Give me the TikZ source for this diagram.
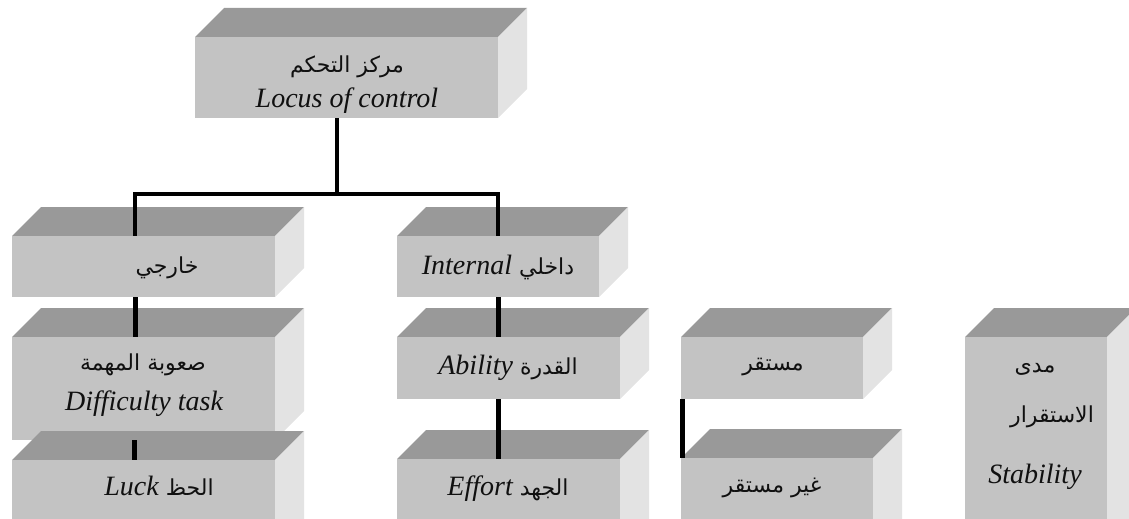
\documentclass[tikz,border=0pt]{standalone}
\usepackage{fontspec}
\setmainfont{Liberation Serif}
\newfontfamily\arabicfont[Script=Arabic]{DejaVu Sans}
\TeXXeTstate=1
\usetikzlibrary{calc,fit}
\definecolor{boxfront}{HTML}{C3C3C3}
\definecolor{boxtop}{HTML}{999999}
\definecolor{boxside}{HTML}{E3E3E3}
\definecolor{treeink}{HTML}{000000}
\definecolor{labelink}{HTML}{101010}

\newcommand{\arabictext}[1]{{\arabicfont\upshape\fontsize{22}{26}\selectfont\beginR #1\endR}}

%% a box seen from above and right: name, left, top, right, bottom
\newcommand{\solidbox}[5]{%
  \fill[boxtop] (#2,#3) -- (#2+29,#3-29) -- (#4+29,#3-29) -- (#4,#3) -- cycle;
  \fill[boxside] (#4,#3) -- (#4+29,#3-29) -- (#4+29,#5-29) -- (#4,#5) -- cycle;
  \fill[boxfront] (#2,#3) rectangle (#4,#5);
  \path (#2,#3) coordinate (#1 nw) (#4,#5) coordinate (#1 se);
  \node[fit=(#1 nw)(#1 se), inner sep=0pt] (#1) {};
}

\begin{document}
\begin{tikzpicture}[x=1pt, y=-1pt,
                    tree/.style={treeink, line width=4pt},
                    stem/.style={treeink, line width=5pt},
                    every node/.style={labelink, anchor=base,
                                       font=\fontsize{28}{33}\selectfont\itshape}]

  \useasboundingbox (0,0) rectangle (1129,519);
  \clip (0,0) rectangle (1129,519);

  %% the boxes
  \solidbox{locus}{195}{37}{498}{118}
  \solidbox{kharji}{12}{236}{275}{297}
  \solidbox{internal}{397}{236}{599}{297}
  \solidbox{difficulty}{12}{337}{275}{440}
  \solidbox{luck}{12}{460}{275}{560}
  \solidbox{ability}{397}{337}{620}{399}
  \solidbox{effort}{397}{459}{620}{560}
  \solidbox{stable}{681}{337}{863}{399}
  \solidbox{unstable}{681}{458}{873}{560}
  \solidbox{stability}{965}{337}{1107}{560}

  %% the tree
  \coordinate (fork) at (337,194);
  \draw[tree] ($(locus.south)+(-9.5,0)$) -- (fork);
  \draw[tree, line join=miter] ($(kharji.north)+(-8.5,0)$) |- (fork) -| (internal.north);
  \draw[stem] ($(kharji.south)+(-8.5,0)$) -- ($(difficulty.north)+(-8.5,0)$);
  \draw[stem] ($(difficulty.south)+(-9.5,0)$) -- ($(luck.north)+(-9.5,0)$);
  \draw[stem] (internal.south) -- (internal.south |- ability.north);
  \draw[stem] ($(ability.south)+(-10.5,0)$) -- ($(effort.north)+(-10.5,0)$);
  \draw[stem] ($(stable.south west)+(2,0)$) -- ($(unstable.north west)+(2,0)$);

  %% the labels
  \node (locus ar)  at (347,73)  {\arabictext{مركز التحكم}};
  \node (locus en)  at (347,107) {Locus of control};
  \node (kharji ar) at (167,273) {\arabictext{خارجي}};
  \node (internal label) at (498,274) {Internal \arabictext{داخلي}};
  \node (difficulty ar) at (143,370) {\arabictext{صعوبة المهمة}};
  \node (difficulty en) at (144,410) {Difficulty task};
  \node (luck label)    at (159,495) {Luck \arabictext{الحظ}};
  \node (ability label) at (508,374) {Ability \arabictext{القدرة}};
  \node (effort label)  at (508,495) {Effort \arabictext{الجهد}};
  \node (stable label)   at (773,370) {\arabictext{مستقر}};
  \node (unstable label) at (772,492) {\arabictext{غير مستقر}};
  \node (stability ar1) at (1035,372) {\arabictext{مدى}};
  \node (stability ar2) at (1052,422) {\arabictext{الاستقرار}};
  \node (stability en)  at (1035,483) {Stability};

\end{tikzpicture}
\end{document}
